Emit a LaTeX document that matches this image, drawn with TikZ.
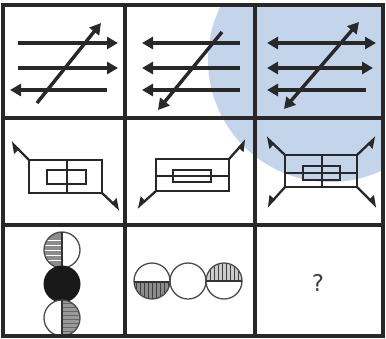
\documentclass[tikz,border=0pt]{standalone}
\usetikzlibrary{arrows.meta}
\usepackage{fontspec}
\setmainfont{DejaVu Sans}
\definecolor{wmblue}{RGB}{196,212,234}
\definecolor{ink}{RGB}{40,40,40}
\begin{document}
\begin{tikzpicture}[x=1pt,y=-1pt,
  gridline/.style={line width=3.3pt, draw=ink},
  arr/.style={line width=3.4pt, draw=ink},
  tipR/.style={-{Triangle[length=11pt,width=12pt]}},
  tipL/.style={{Triangle[length=11pt,width=12pt]}-},
  tipLR/.style={{Triangle[length=11pt,width=12pt]}-{Triangle[length=11pt,width=12pt]}},
  box/.style={line width=2.3pt, draw=ink},
  conn/.style={line width=2.3pt, draw=ink},
  hl/.style={-{Triangle[left,length=9pt,width=12pt]}},
  hr/.style={-{Triangle[right,length=9pt,width=12pt]}},
  ring/.style={line width=1.3pt, draw=black!70},
  hatch/.style={line width=0.9pt, draw=black!75}
]
\useasboundingbox (0,0) rectangle (386,338);
\fill[white] (0,0) rectangle (386,338);
% watermark circle
\begin{scope}
  \clip (3,5) rectangle (383,336);
  \fill[wmblue] (330,60) circle (122);
\end{scope}

% ---------- row 1 ----------
% cell 1
\coordinate (a1s) at (18,43);  \coordinate (a1e) at (118,43);
\coordinate (a2s) at (18,68);  \coordinate (a2e) at (118,68);
\coordinate (a3s) at (10,90);  \coordinate (a3e) at (107,90);
\coordinate (a4s) at (37,103); \coordinate (a4e) at (101,23);
\draw[arr,tipR] (a1s) -- (a1e);
\draw[arr,tipR] (a2s) -- (a2e);
\draw[arr,tipL] (a3s) -- (a3e);
\draw[arr,tipR] (a4s) -- (a4e);
% cell 2
\coordinate (b1s) at (142,43); \coordinate (b1e) at (240,43);
\coordinate (b2s) at (142,68); \coordinate (b2e) at (240,68);
\coordinate (b3s) at (142,90); \coordinate (b3e) at (240,90);
\coordinate (b4s) at (222,32); \coordinate (b4e) at (158,110);
\draw[arr,tipL] (b1s) -- (b1e);
\draw[arr,tipL] (b2s) -- (b2e);
\draw[arr,tipL] (b3s) -- (b3e);
\draw[arr,tipR] (b4s) -- (b4e);
% cell 3
\coordinate (c1s) at (267,43); \coordinate (c1e) at (376,43);
\coordinate (c2s) at (267,68); \coordinate (c2e) at (373,68);
\coordinate (c3s) at (267,90); \coordinate (c3e) at (366,90);
\coordinate (c4s) at (284,109); \coordinate (c4e) at (359,22);
\draw[arr,tipLR] (c1s) -- (c1e);
\draw[arr,tipLR] (c2s) -- (c2e);
\draw[arr,tipL] (c3s) -- (c3e);
\draw[arr,tipLR] (c4s) -- (c4e);

% ---------- row 2 ----------
% cell 4
\draw[box] (29,160) rectangle (102,193);
\draw[box] (67,160) -- (67,193);
\draw[box] (47,170) rectangle (86,184);
\coordinate (d1) at (29,160); \coordinate (d1e) at (11,142);
\coordinate (d2) at (102,193); \coordinate (d2e) at (120,210);
\draw[conn,hl] (d1) -- (d1e);
\draw[conn,hl] (d2) -- (d2e);
% cell 5
\draw[box] (156,159) rectangle (229,191);
\draw[box] (156,176) -- (230,176);
\draw[box] (173,170) rectangle (211,182);
\coordinate (e1) at (229,159); \coordinate (e1e) at (246,140);
\coordinate (e2) at (156,191); \coordinate (e2e) at (137,208);
\draw[conn,hr] (e1) -- (e1e);
\draw[conn,hr] (e2) -- (e2e);
% cell 6
\draw[box] (285,155) rectangle (357,187);
\draw[box] (322,155) -- (322,187);
\draw[box] (285,173) -- (357,173);
\draw[box] (303,166) rectangle (340,180);
\coordinate (f1) at (285,155); \coordinate (f1e) at (266,137);
\coordinate (f2) at (357,155); \coordinate (f2e) at (376,137);
\coordinate (f3) at (285,187); \coordinate (f3e) at (267,207);
\coordinate (f4) at (357,187); \coordinate (f4e) at (377,207);
\draw[conn,hl] (f1) -- (f1e);
\draw[conn,hr] (f2) -- (f2e);
\draw[conn,hr] (f3) -- (f3e);
\draw[conn,hl] (f4) -- (f4e);

% ---------- row 3 ----------
% cell 7
\coordinate (g1) at (62,250);
\coordinate (g2) at (62,284);
\coordinate (g3) at (62,318);
\fill[white] (g1) circle (18);
\begin{scope}
  \clip (g1) circle (18);
  \fill[black!45] (44,230) rectangle (62,270);
  \foreach \yy in {240,245,250,255,260} \draw[white,line width=1pt] (44,\yy) -- (62,\yy);
\end{scope}
\draw[ring] (g1) circle (18);
\draw[line width=1.5pt,draw=black!80] (62,232) -- (62,268);
\fill[black!90] (g2) circle (18.5);
\fill[white] (g3) circle (18);
\begin{scope}
  \clip (g3) circle (18);
  \fill[black!40] (62,298) rectangle (82,338);
  \foreach \yy in {303,307,311,315,319,323,327,331} \draw[hatch,black!60] (62,\yy) -- (82,\yy);
\end{scope}
\draw[ring] (g3) circle (18);
\draw[line width=1.5pt,draw=black!80] (62,300) -- (62,337);
% cell 8
\coordinate (h1) at (152,281);
\coordinate (h2) at (188,281);
\coordinate (h3) at (224,281);
\begin{scope}
  \clip (h1) circle (18);
  \fill[black!45] (132,282) rectangle (172,300);
  \foreach \xx in {136,140,144,148,152,156,160,164,168} \draw[hatch] (\xx,282) -- (\xx,300);
\end{scope}
\draw[ring] (h1) circle (18);
\draw[line width=1.5pt,draw=black!80] (134,282) -- (170,282);
\draw[ring] (h2) circle (18);
\begin{scope}
  \clip (h3) circle (18);
  \fill[black!20] (204,262) rectangle (244,281);
  \foreach \xx in {210,214,218,222,226,230,234,238} \draw[hatch] (\xx,262) -- (\xx,281);
\end{scope}
\draw[ring] (h3) circle (18);
\draw[line width=1.5pt,draw=black!80] (206,281) -- (242,281);
% cell 9
\node[font=\fontsize{23}{23}\selectfont, text=black!75] (q) at (318,283) {?};

% ---------- grid ----------
\draw[gridline] (3,5) rectangle (383,336);
\draw[gridline] (125,5) -- (125,336);
\draw[gridline] (255,5) -- (255,336);
\draw[gridline] (3,118) -- (383,118);
\draw[gridline] (3,225) -- (383,225);
\end{tikzpicture}
\end{document}
